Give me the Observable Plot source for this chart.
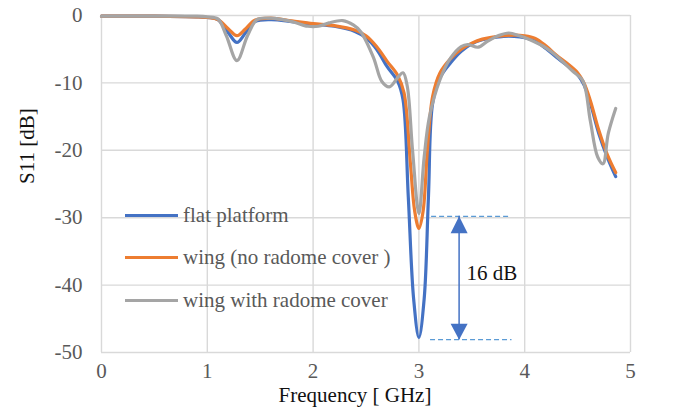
<!DOCTYPE html>
<html>
<head>
<meta charset="utf-8">
<script src="https://cdn.jsdelivr.net/npm/d3@7"></script>
<script src="https://cdn.jsdelivr.net/npm/@observablehq/plot@0.6"></script>
<style>
  html, body { margin: 0; padding: 0; background: #fff; }
  #wrap { position: relative; width: 681px; height: 412px; font-family: "Liberation Serif", "Times New Roman", serif; }
  #legend { position: absolute; left: 125px; top: 200px; color: #595959; font-size: 21px; }
  .row { position: absolute; left: 0; white-space: nowrap; display: flex; align-items: center; height: 30px; }
  .sw { width: 53px; height: 3px; margin-right: 5px; }
</style>
</head>
<body>
<div id="wrap"><div id="legend"></div></div>
<script>
// ---- data ----
const seriesNames = ["flat platform", "wing (no radome cover )", "wing with radome cover"];
const seriesColors = ["#4472C4", "#ED7D31", "#A5A5A5"];

const freqFlat = [0, 0.5, 0.9, 1.0, 1.1, 1.2, 1.28, 1.36, 1.45, 1.6, 1.8, 2.0, 2.2, 2.4, 2.5, 2.6, 2.7, 2.8, 2.85, 2.9, 2.95, 3.0, 3.05, 3.09, 3.13, 3.2, 3.3, 3.4, 3.5, 3.6, 3.7, 3.8, 3.9, 4.0, 4.1, 4.2, 4.3, 4.4, 4.5, 4.56, 4.62, 4.7, 4.78, 4.86];
const s11Flat  = [-0.1, -0.1, -0.2, -0.3, -0.6, -2.6, -4.0, -2.6, -0.9, -0.6, -0.9, -1.3, -1.6, -2.4, -3.3, -5.0, -7.6, -9.8, -12.5, -27, -42, -47.8, -42, -27, -13, -9.2, -7.0, -5.3, -4.2, -3.6, -3.3, -3.1, -3.1, -3.3, -3.8, -4.9, -6.2, -7.4, -8.8, -10.3, -13.0, -17.5, -21.0, -23.9];

const freqWing = [0, 0.5, 0.9, 1.0, 1.1, 1.2, 1.28, 1.36, 1.45, 1.6, 1.8, 2.0, 2.2, 2.4, 2.5, 2.6, 2.7, 2.8, 2.86, 2.92, 2.96, 3.0, 3.04, 3.08, 3.13, 3.2, 3.3, 3.4, 3.5, 3.6, 3.7, 3.8, 3.9, 4.0, 4.1, 4.2, 4.3, 4.4, 4.5, 4.56, 4.62, 4.7, 4.78, 4.86];
const s11Wing  = [-0.1, -0.1, -0.2, -0.3, -0.6, -2.0, -3.0, -2.0, -0.7, -0.4, -0.8, -1.2, -1.5, -2.2, -3.0, -4.6, -6.8, -8.9, -11.5, -22, -29, -31.6, -29, -20, -12, -8.5, -6.4, -5.0, -4.1, -3.5, -3.2, -3.0, -2.9, -3.0, -3.4, -4.5, -5.9, -7.1, -8.5, -10.0, -12.6, -17.0, -20.6, -23.3];

const freqRadome = [0, 0.5, 0.9, 1.0, 1.1, 1.18, 1.28, 1.38, 1.47, 1.6, 1.8, 1.95, 2.05, 2.15, 2.28, 2.38, 2.45, 2.57, 2.65, 2.72, 2.8, 2.85, 2.89, 2.94, 3.0, 3.05, 3.1, 3.2, 3.3, 3.4, 3.46, 3.56, 3.65, 3.75, 3.85, 3.95, 4.05, 4.2, 4.3, 4.45, 4.55, 4.62, 4.69, 4.74, 4.79, 4.86];
const s11Radome  = [-0.1, -0.1, -0.1, -0.2, -0.5, -3.0, -6.7, -3.0, -0.6, -0.4, -0.9, -1.6, -1.6, -1.1, -0.75, -1.4, -2.4, -6.2, -9.8, -10.6, -9.2, -8.5, -10.5, -20, -29.4, -21, -15, -9.5, -6.3, -4.6, -4.3, -4.7, -3.8, -3.0, -2.6, -3.0, -3.6, -4.8, -6.0, -8.2, -9.7, -15.6, -21.0, -22.0, -17.5, -13.8];

const xTicks = [0, 1, 2, 3, 4, 5];
const yTicks = [0, -10, -20, -30, -40, -50];

// annotation: difference between the two minima
const annoLevels = [-29.8, -48.1];
const annoLineFrom = [3.12, 3.11];
const annoLineTo = [3.85, 3.88];
const annoArrowX = 3.38;
const annoText = "16 dB";
const annoTextX = 3.45;
const annoTextY = -38.2;

// ---- build tables ----
const rows = [];
[[freqFlat, s11Flat], [freqWing, s11Wing], [freqRadome, s11Radome]].forEach(([fx, sy], i) => {
  fx.forEach((f, j) => rows.push({series: seriesNames[i], f, s: sy[j]}));
});
const annoLines = annoLevels.map((y, i) => ({y, x1: annoLineFrom[i], x2: annoLineTo[i]}));

const upTri = { draw(ctx) { ctx.moveTo(0, 0); ctx.lineTo(-8.5, 17); ctx.lineTo(8.5, 17); ctx.closePath(); } };
const downTri = { draw(ctx) { ctx.moveTo(0, 0); ctx.lineTo(-8.5, -16); ctx.lineTo(8.5, -16); ctx.closePath(); } };

const font = '"Liberation Serif", "Times New Roman", serif';

const chart = Plot.plot({
  width: 681,
  height: 412,
  marginLeft: 101,
  marginRight: 51,
  marginTop: 15,
  marginBottom: 60,
  style: { fontFamily: font, fontSize: "21px", color: "#595959", background: "#fff" },
  x: { domain: [0, 5] },
  y: { domain: [-50, 0] },
  color: { domain: seriesNames, range: seriesColors },
  marks: [
    Plot.gridX(xTicks, { stroke: "#D9D9D9", strokeOpacity: 1, strokeWidth: 1.4 }),
    Plot.gridY(yTicks, { stroke: "#D9D9D9", strokeOpacity: 1, strokeWidth: 1.4 }),
    Plot.axisX(xTicks, { tickSize: 0, tickPadding: 11, label: null, fill: "#595959", fontSize: 21 }),
    Plot.axisY(yTicks, { tickSize: 0, tickPadding: 19, label: null, tickFormat: d => String(d), fill: "#595959", fontSize: 21 }),
    Plot.text(["Frequency [ GHz]"], { frameAnchor: "bottom", dx: -11, dy: 49, fill: "#111", fontSize: 21 }),
    Plot.text(["S11 [dB]"], { frameAnchor: "left", rotate: -90, dx: -74, fill: "#111", fontSize: 21 }),
    Plot.line(rows, { x: "f", y: "s", z: "series", stroke: "series", strokeWidth: 3.2, curve: "catmull-rom" }),
    Plot.ruleY(annoLines, { y: "y", x1: "x1", x2: "x2", stroke: "#5B9BD5", strokeWidth: 1.2, strokeDasharray: "5,3" }),
    Plot.ruleX([annoArrowX], { y1: annoLevels[0], y2: annoLevels[1], stroke: "#4472C4", strokeWidth: 1.5 }),
    Plot.dot([{x: annoArrowX, y: annoLevels[0]}], { x: "x", y: "y", symbol: upTri, fill: "#4472C4", stroke: "none" }),
    Plot.dot([{x: annoArrowX, y: annoLevels[1]}], { x: "x", y: "y", symbol: downTri, fill: "#4472C4", stroke: "none" }),
    Plot.text([annoText], { x: annoTextX, y: annoTextY, textAnchor: "start", fill: "#111", fontSize: 21 })
  ]
});
document.getElementById("wrap").prepend(chart);

// legend
const legend = document.getElementById("legend");
seriesNames.forEach((name, i) => {
  const row = document.createElement("div");
  row.className = "row";
  row.style.top = (i * 42.5) + "px";
  const sw = document.createElement("div");
  sw.className = "sw";
  sw.style.background = seriesColors[i];
  const tx = document.createElement("span");
  tx.textContent = name;
  row.append(sw, tx);
  legend.append(row);
});
</script>
</body>
</html>
